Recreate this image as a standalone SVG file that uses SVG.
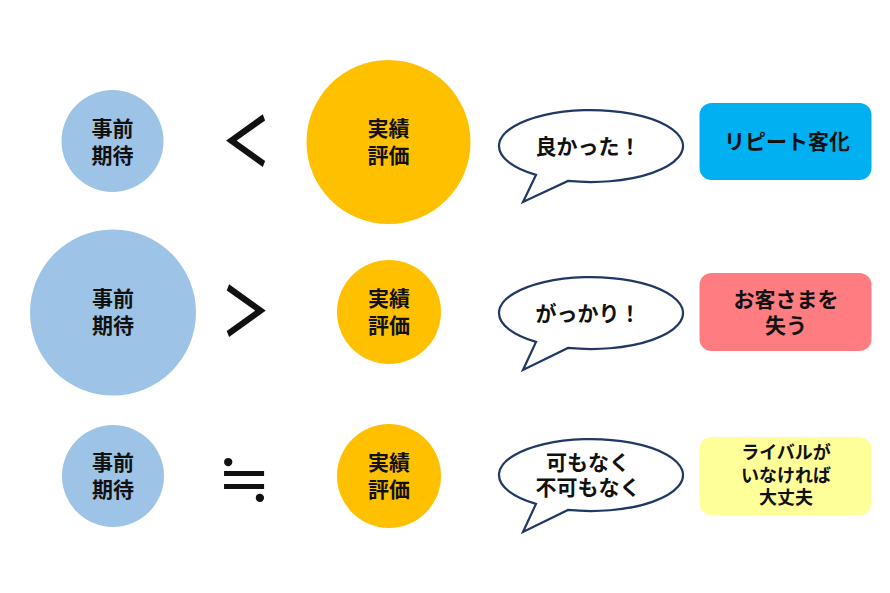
<svg xmlns="http://www.w3.org/2000/svg" width="890" height="593" viewBox="0 0 890 593">
<style>
text{font-family:"Noto Sans CJK JP","Noto Sans",sans-serif;fill:#111;text-anchor:middle}
.b{font-weight:bold;font-size:21px}
.s{font-weight:bold;font-size:18px}
.sym{font-size:52px;font-weight:bold}
.sym2{font-family:"DejaVu Serif",serif;font-size:64px;font-weight:normal}
.exp{fill:#9DC3E6}
.act{fill:#FFC000}
.bub{fill:#fff;stroke:#1F3864;stroke-width:2.2;stroke-linejoin:miter}
</style>
<rect width="890" height="593" fill="#fff"/>
<g id="row1">
<g id="exp1"><circle class="exp" cx="112.5" cy="141" r="51"/><text class="b" x="112.5" y="136">事前<tspan x="112.5" dy="27">期待</tspan></text></g>
<g id="sym1"><text class="sym" transform="translate(246 143) scale(0.95 1.3)" x="0" y="18">＜</text></g>
<g id="act1"><circle class="act" cx="388.5" cy="142" r="82"/><text class="b" x="388.5" y="136">実績<tspan x="388.5" dy="27">評価</tspan></text></g>
<g id="bub1"><path class="bub" d="M568 180.9 A92 36 0 1 0 536 174.9 L523 202 Z"/><text class="b" x="588" y="154">良かった！</text></g>
<g id="res1"><rect x="699.5" y="103" width="172" height="77" rx="12" fill="#00B0F0"/><text class="b" x="787" y="149">リピート客化</text></g>
</g>
<g id="row2">
<g id="exp2"><circle class="exp" cx="113" cy="312.5" r="83"/><text class="b" x="113" y="306">事前<tspan x="113" dy="27">期待</tspan></text></g>
<g id="sym2"><text class="sym" transform="translate(246 313) scale(0.95 1.3)" x="0" y="18">＞</text></g>
<g id="act2"><circle class="act" cx="389" cy="312" r="52"/><text class="b" x="389" y="306">実績<tspan x="389" dy="27">評価</tspan></text></g>
<g id="bub2"><path class="bub" d="M568 347.9 A92 36 0 1 0 536 341.9 L523 370 Z"/><text class="b" x="588" y="321">がっかり！</text></g>
<g id="res2"><rect x="699.5" y="273" width="172" height="78" rx="12" fill="#FF7C80"/><text class="b" x="786" y="307">お客さまを<tspan x="786" dy="26">失う</tspan></text></g>
</g>
<g id="row3">
<g id="exp3"><circle class="exp" cx="113" cy="476" r="51"/><text class="b" x="113" y="470">事前<tspan x="113" dy="27">期待</tspan></text></g>
<g id="sym3"><text class="sym2" x="244" y="500">≒</text></g>
<g id="act3"><circle class="act" cx="389" cy="476" r="52"/><text class="b" x="389" y="470">実績<tspan x="389" dy="27">評価</tspan></text></g>
<g id="bub3"><path class="bub" d="M568 509.9 A92 36 0 1 0 536 503.9 L523 532 Z"/><text class="b" x="588" y="470">可もなく<tspan x="588" dy="25">不可もなく</tspan></text></g>
<g id="res3"><rect x="699.5" y="437" width="172" height="78" rx="12" fill="#FFFF99"/><text class="s" x="786" y="459">ライバルが<tspan x="786" dy="22.5">いなければ</tspan><tspan x="786" dy="22.5">大丈夫</tspan></text></g>
</g>
<g id="connectors"/>
</svg>
